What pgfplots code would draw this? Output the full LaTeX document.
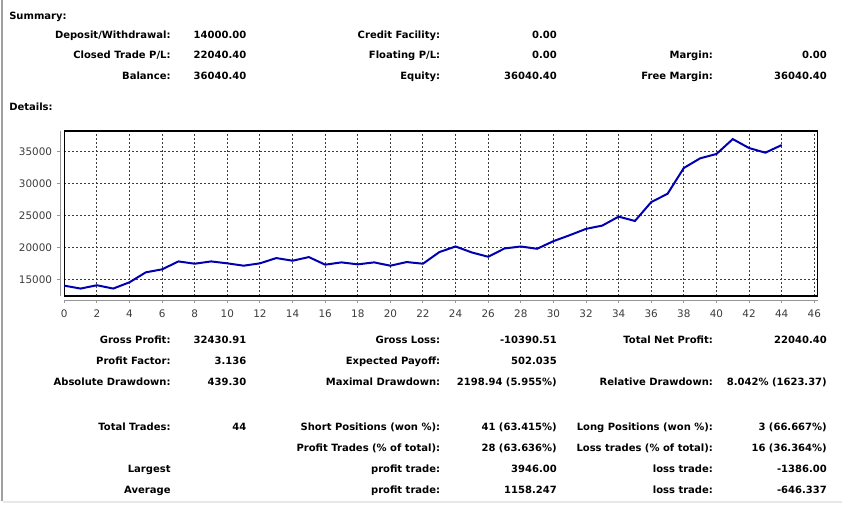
\documentclass[border=0pt]{standalone}
\usepackage{pgfplots}
\pgfplotsset{compat=1.18}
\usepackage{fontspec}
\setmainfont{DejaVu Sans}
\definecolor{eqline}{RGB}{0,0,176}
\definecolor{axgray}{RGB}{150,150,150}
\definecolor{gridgray}{RGB}{60,60,60}
\definecolor{ticktext}{RGB}{60,60,60}
% right aligned label, x/y in screen pixels (y = middle of the text row)
\newcommand\R[3]{\node[anchor=base east, inner sep=0pt] at (#1,#2+3.65) {#3};}
\newcommand\Lft[3]{\node[anchor=base west, inner sep=0pt] at (#1,#2+3.65) {#3};}
\begin{document}
\begin{tikzpicture}
\path[use as bounding box] (0,0) rectangle (631.5pt,-382.5pt);

\begin{axis}[
  at={(48.225pt,-222pt)}, anchor=south west,
  scale only axis, width=565.05pt, height=123.75pt,
  xmin=0, xmax=46.21, ymin=12380, ymax=38240,
  xtick={0,2,...,46}, ytick={15000,20000,...,35000},
  scaled y ticks=false,
  /pgf/number format/1000 sep={},
  /pgf/number format/assume math mode=true,
  grid=major,
  major grid style={gridgray, line width=0.75pt, dash pattern=on 1.5pt off 1.5pt},
  axis line style={black, line width=0.9pt},
  tick style={draw=none},
  tick label style={font=\fontsize{7.8}{9}\selectfont, text=ticktext},
  yticklabel style={anchor=east, inner sep=0pt, xshift=-9pt},
  xticklabel style={anchor=north, inner sep=0pt, yshift=-10.2pt},
  clip=false,
]
\addplot[eqline, line width=1.5pt] coordinates {
(0,14000) (1,13545) (2,14065) (3,13545) (4,14530) (5,16090) (6,16560)
(7,17800) (8,17440) (9,17800) (10,17500) (11,17130) (12,17500) (13,18325)
(14,17910) (15,18480) (16,17290) (17,17650) (18,17340) (19,17650) (20,17130)
(21,17700) (22,17440) (23,19260) (24,20140) (25,19200) (26,18530) (27,19830)
(28,20140) (29,19780) (30,20975) (31,21910) (32,22900) (33,23420) (34,24820)
(35,24140) (36,27100) (37,28400) (38,32450) (39,33960) (40,34640) (41,36970)
(42,35570) (43,34840) (44,36040)
};
% separate grey axis lines with their outward ticks
\draw[axgray, line width=0.75pt] ([xshift=-2.7pt]rel axis cs:0,0) -- ([xshift=-2.7pt]rel axis cs:0,1);
\draw[axgray, line width=0.75pt] ([yshift=-3.5pt]rel axis cs:0,0) -- ([yshift=-3.5pt]rel axis cs:1,0);
\pgfplotsinvokeforeach{15000,20000,25000,30000,35000}{
  \draw[axgray, line width=0.75pt] ([xshift=-2.7pt]axis cs:0,#1) -- ([xshift=-5.3pt]axis cs:0,#1);
}
\pgfplotsinvokeforeach{0,2,4,6,8,10,12,14,16,18,20,22,24,26,28,30,32,34,36,38,40,42,44,46}{
  \draw[axgray, line width=0.75pt] ([yshift=-3.5pt]axis cs:#1,12380) -- ([yshift=-5.5pt]axis cs:#1,12380);
}
\end{axis}

\begin{scope}[x=0.75pt, y=-0.75pt]
\draw[color={rgb,255:red,160;green,160;blue,160}, line width=1.5pt] (1.8,0) -- (1.8,501);
\draw[color={rgb,255:red,232;green,232;blue,232}, line width=1.5pt] (2.6,501.5) -- (842,501.5);

\fontsize{7.5}{9}\selectfont\bfseries
\Lft{9}{15.5}{Summary:}
\R{170.8}{35}{Deposit/Withdrawal:} \R{246.5}{35}{14000.00}
\R{440.4}{35}{Credit Facility:} \R{557}{35}{0.00}
\R{170.8}{55}{Closed Trade P/L:} \R{246.5}{55}{22040.40}
\R{440.4}{55}{Floating P/L:} \R{557}{55}{0.00}
\R{713.2}{55}{Margin:} \R{827}{55}{0.00}
\R{170.8}{75.5}{Balance:} \R{246.5}{75.5}{36040.40}
\R{440.4}{75.5}{Equity:} \R{557}{75.5}{36040.40}
\R{713.2}{75.5}{Free Margin:} \R{827}{75.5}{36040.40}
\Lft{9}{106.5}{Details:}

\R{170.8}{340}{Gross Profit:} \R{246.5}{340}{32430.91}
\R{440.4}{340}{Gross Loss:} \R{557}{340}{-10390.51}
\R{713.2}{340}{Total Net Profit:} \R{827}{340}{22040.40}
\R{170.8}{361}{Profit Factor:} \R{246.5}{361}{3.136}
\R{440.4}{361}{Expected Payoff:} \R{557}{361}{502.035}
\R{170.8}{382}{Absolute Drawdown:} \R{246.5}{382}{439.30}
\R{440.4}{382}{Maximal Drawdown:} \R{557}{382}{2198.94 (5.955\%)}
\R{713.2}{382}{Relative Drawdown:} \R{827}{382}{8.042\% (1623.37)}
\R{170.8}{427}{Total Trades:} \R{246.5}{427}{44}
\R{440.4}{427}{Short Positions (won \%):} \R{557}{427}{41 (63.415\%)}
\R{713.2}{427}{Long Positions (won \%):} \R{827}{427}{3 (66.667\%)}
\R{440.4}{448}{Profit Trades (\% of total):} \R{557}{448}{28 (63.636\%)}
\R{713.2}{448}{Loss trades (\% of total):} \R{827}{448}{16 (36.364\%)}
\R{170.8}{469}{Largest}
\R{440.4}{469}{profit trade:} \R{557}{469}{3946.00}
\R{713.2}{469}{loss trade:} \R{827}{469}{-1386.00}
\R{170.8}{490}{Average}
\R{440.4}{490}{profit trade:} \R{557}{490}{1158.247}
\R{713.2}{490}{loss trade:} \R{827}{490}{-646.337}
\end{scope}
\end{tikzpicture}
\end{document}
